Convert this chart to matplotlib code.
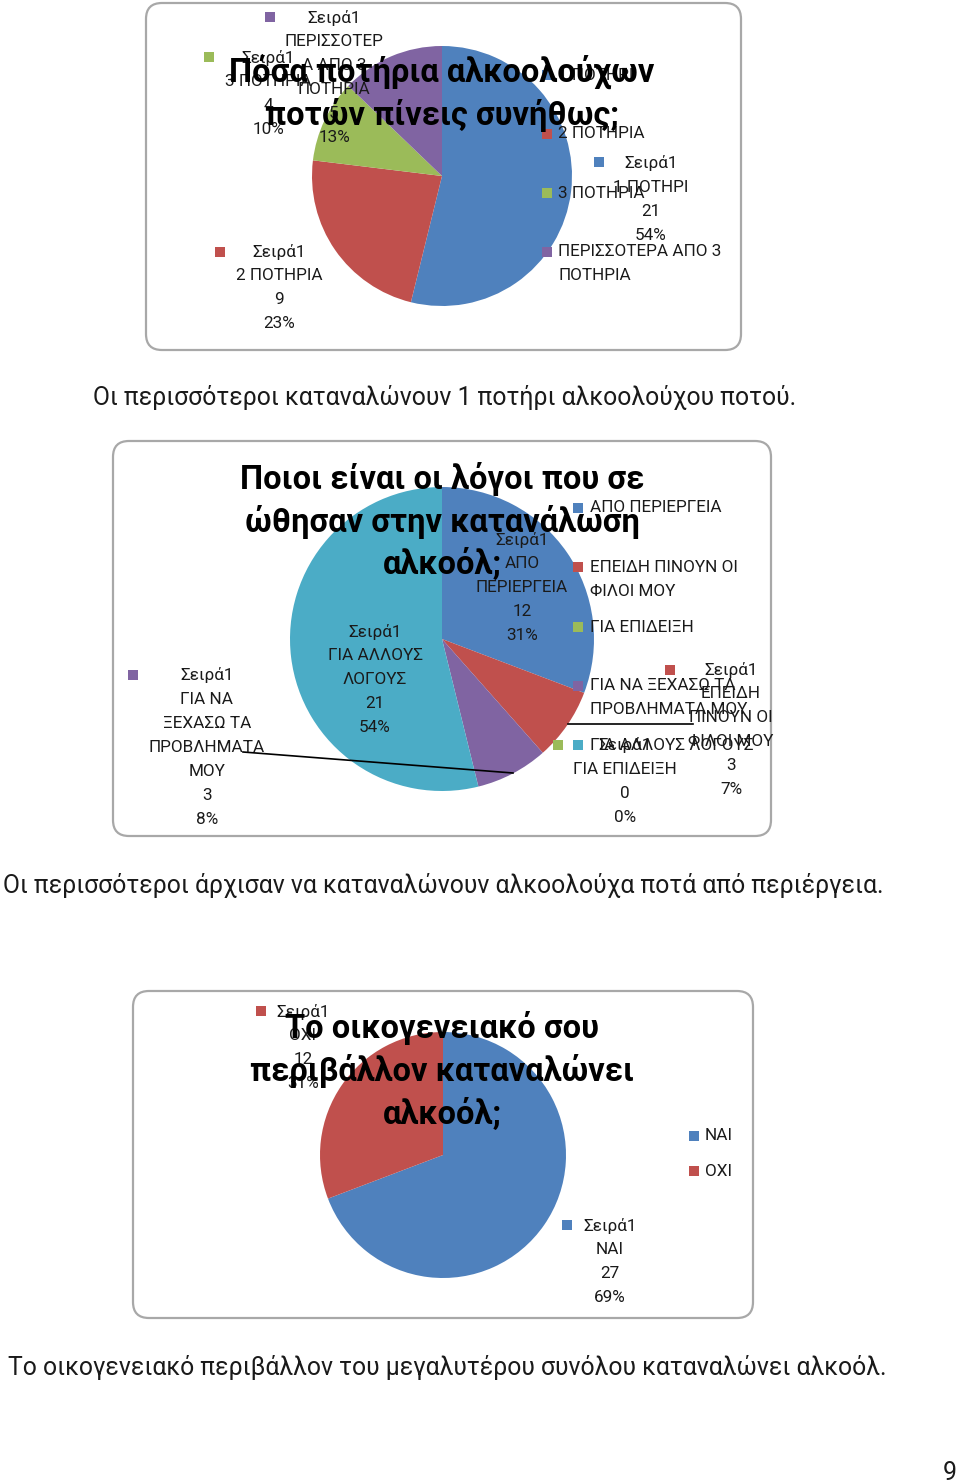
import matplotlib
matplotlib.use('Agg')
import matplotlib.pyplot as plt
from matplotlib.patches import FancyBboxPatch, Rectangle

# ---------------- data ----------------
series_name = "Σειρά1"

c1_title = "Πόσα ποτήρια αλκοολούχων\nποτών πίνεις συνήθως;"
c1_categories = ["1 ΠΟΤΗΡΙ", "2 ΠΟΤΗΡΙΑ", "3 ΠΟΤΗΡΙΑ", "ΠΕΡΙΣΣΟΤΕΡΑ ΑΠΟ 3 ΠΟΤΗΡΙΑ"]
c1_values = [21, 9, 4, 5]
c1_pct = ["54%", "23%", "10%", "13%"]
c1_caption = "Οι περισσότεροι καταναλώνουν 1 ποτήρι αλκοολούχου ποτού."

c2_title = "Ποιοι είναι οι λόγοι που σε\nώθησαν στην κατανάλωση\nαλκοόλ;"
c2_categories = ["ΑΠΟ ΠΕΡΙΕΡΓΕΙΑ", "ΕΠΕΙΔΗ ΠΙΝΟΥΝ ΟΙ ΦΙΛΟΙ ΜΟΥ", "ΓΙΑ ΕΠΙΔΕΙΞΗ",
                 "ΓΙΑ ΝΑ ΞΕΧΑΣΩ ΤΑ ΠΡΟΒΛΗΜΑΤΑ ΜΟΥ", "ΓΙΑ ΑΛΛΟΥΣ ΛΟΓΟΥΣ"]
c2_values = [12, 3, 0, 3, 21]
c2_pct = ["31%", "7%", "0%", "8%", "54%"]
c2_caption = "Οι περισσότεροι άρχισαν να καταναλώνουν αλκοολούχα ποτά από περιέργεια."

c3_title = "Το οικογενειακό σου\nπεριβάλλον καταναλώνει\nαλκοόλ;"
c3_categories = ["ΝΑΙ", "ΟΧΙ"]
c3_values = [27, 12]
c3_pct = ["69%", "31%"]
c3_caption = "Το οικογενειακό περιβάλλον του μεγαλυτέρου συνόλου καταναλώνει αλκοόλ."

page_number = "9"

# ---------------- style / layout ----------------
COLORS = ["#4F81BD", "#C0504D", "#9BBB59", "#8064A2", "#4BACC6"]
FONT = "Roboto"
LBL_FS = 12.3
TITLE_FS = 23.5
CAP_FS = 17.8
LINE = 24  # pixel spacing of label lines
TCOL = "#1a1a1a"

W, H = 960, 1483
fig = plt.figure(figsize=(W / 100, H / 100), dpi=100)
fig.patch.set_facecolor("white")

bg = fig.add_axes([0, 0, 1, 1], zorder=0)
bg.set_xlim(0, W); bg.set_ylim(H, 0); bg.axis("off")
top = fig.add_axes([0, 0, 1, 1], zorder=2)
top.set_xlim(0, W); top.set_ylim(H, 0); top.axis("off")
top.patch.set_alpha(0)


def box(x0, y0, x1, y1):
    p = FancyBboxPatch((x0, y0), x1 - x0, y1 - y0,
                       boxstyle="round,pad=0,rounding_size=16",
                       facecolor="white", edgecolor="#a8a8a8", linewidth=1.6)
    bg.add_patch(p)
    return p


def pie(values, cx, cy, r):
    ax = fig.add_axes([(cx - r) / W, 1 - (cy + r) / H, 2 * r / W, 2 * r / H], zorder=1)
    ax.pie(values, colors=COLORS[:len(values)], startangle=90, counterclock=False,
           radius=1, wedgeprops=dict(linewidth=0))
    ax.set_xlim(-1, 1); ax.set_ylim(-1, 1)
    ax.set_aspect("auto")
    ax.axis("off")
    return ax


def square(x, y, color, s=10):
    top.add_patch(Rectangle((x - s / 2, y - s / 2), s, s, facecolor=color,
                            edgecolor="none", zorder=3))


def lines_at(x, y0, lines, ha="center", clip=None, z=4):
    for k, t in enumerate(lines):
        tx = top.text(x, y0 + k * LINE, t, ha=ha, va="center", fontsize=LBL_FS,
                      family=FONT, color=TCOL, zorder=z)
        if clip is not None:
            tx.set_clip_path(clip)


def legend(sq_x, tx_x, ys, wraps, n):
    for i in range(n):
        square(sq_x, ys[i], COLORS[i])
        lines_at(tx_x, ys[i], wraps[i], ha="left")


def data_labels(cats_wrap, values, pct, layout, clip=None):
    for i, (sq, tx, y0) in enumerate(layout):
        if sq is not None:
            square(sq[0], sq[1], COLORS[i])
        lines_at(tx, y0, [series_name] + cats_wrap[i] + [str(values[i]), pct[i]],
                 clip=clip)


def title(text, y0):
    for k, t in enumerate(text.split("\n")):
        top.text(442, y0 + k * 43, t, ha="center", va="center", fontsize=TITLE_FS,
                 family=FONT, fontweight="bold", color="black", zorder=10)


def caption(text, x, y):
    top.text(x, y, text, ha="left", va="center", fontsize=CAP_FS, family=FONT,
             color=TCOL, zorder=5)


# ---------------- chart 1 ----------------
box(146, 3, 741, 350)
pie(c1_values, 442, 176, 130)
legend(547, 558, [75, 134, 193, 252],
       [["1 ΠΟΤΗΡΙ"], ["2 ΠΟΤΗΡΙΑ"], ["3 ΠΟΤΗΡΙΑ"], ["ΠΕΡΙΣΣΟΤΕΡΑ ΑΠΟ 3", "ΠΟΤΗΡΙΑ"]],
       len(c1_values))
data_labels([["1 ΠΟΤΗΡΙ"], ["2 ΠΟΤΗΡΙΑ"], ["3 ΠΟΤΗΡΙΑ"], ["ΠΕΡΙΣΣΟΤΕΡ", "Α ΑΠΟ 3", "ΠΟΤΗΡΙΑ"]],
            c1_values, c1_pct,
            [((599, 162), 651, 163), ((220, 252), 279, 252),
             ((209, 57), 268, 58), ((270, 17), 334, 18)])
title(c1_title, 72)
caption(c1_caption, 93, 398)

# ---------------- chart 2 ----------------
b2 = box(113, 441, 771, 836)
pie(c2_values, 442, 639, 152)
legend(578, 590, [508, 567, 627, 686, 745],
       [["ΑΠΟ ΠΕΡΙΕΡΓΕΙΑ"], ["ΕΠΕΙΔΗ ΠΙΝΟΥΝ ΟΙ", "ΦΙΛΟΙ ΜΟΥ"], ["ΓΙΑ ΕΠΙΔΕΙΞΗ"],
        ["ΓΙΑ ΝΑ ΞΕΧΑΣΩ ΤΑ", "ΠΡΟΒΛΗΜΑΤΑ ΜΟΥ"], ["ΓΙΑ ΑΛΛΟΥΣ ΛΟΓΟΥΣ"]],
       len(c2_values))
top.plot([243, 513], [752, 773], color="black", lw=1.2, zorder=3)
top.plot([568, 693], [724, 724], color="black", lw=1.2, zorder=3)
clip_rect = Rectangle((113, 441), 657, 395, transform=top.transData)
data_labels([["ΑΠΟ", "ΠΕΡΙΕΡΓΕΙΑ"], ["ΕΠΕΙΔΗ", "ΠΙΝΟΥΝ ΟΙ", "ΦΙΛΟΙ ΜΟΥ"], ["ΓΙΑ ΕΠΙΔΕΙΞΗ"],
             ["ΓΙΑ ΝΑ", "ΞΕΧΑΣΩ ΤΑ", "ΠΡΟΒΛΗΜΑΤΑ", "ΜΟΥ"], ["ΓΙΑ ΑΛΛΟΥΣ", "ΛΟΓΟΥΣ"]],
            c2_values, c2_pct,
            [(None, 522, 540), ((670, 670), 731, 670), ((558, 745), 625, 745),
             ((133, 675), 207, 675), (None, 375, 632)], clip=clip_rect)
title(c2_title, 479)
caption(c2_caption, 3, 886)

# ---------------- chart 3 ----------------
box(133, 991, 753, 1318)
pie(c3_values, 443, 1155, 123)
legend(694, 705, [1136, 1171], [["ΝΑΙ"], ["ΟΧΙ"]], len(c3_values))
data_labels([["ΝΑΙ"], ["ΟΧΙ"]], c3_values, c3_pct,
            [((567, 1225), 610, 1226), ((261, 1011), 303, 1012)])
title(c3_title, 1028)
caption(c3_caption, 8, 1368)

top.text(957, 1473, page_number, ha="right", va="center", fontsize=CAP_FS,
         family=FONT, color=TCOL)

fig.savefig("out.png", dpi=100, facecolor="white")
